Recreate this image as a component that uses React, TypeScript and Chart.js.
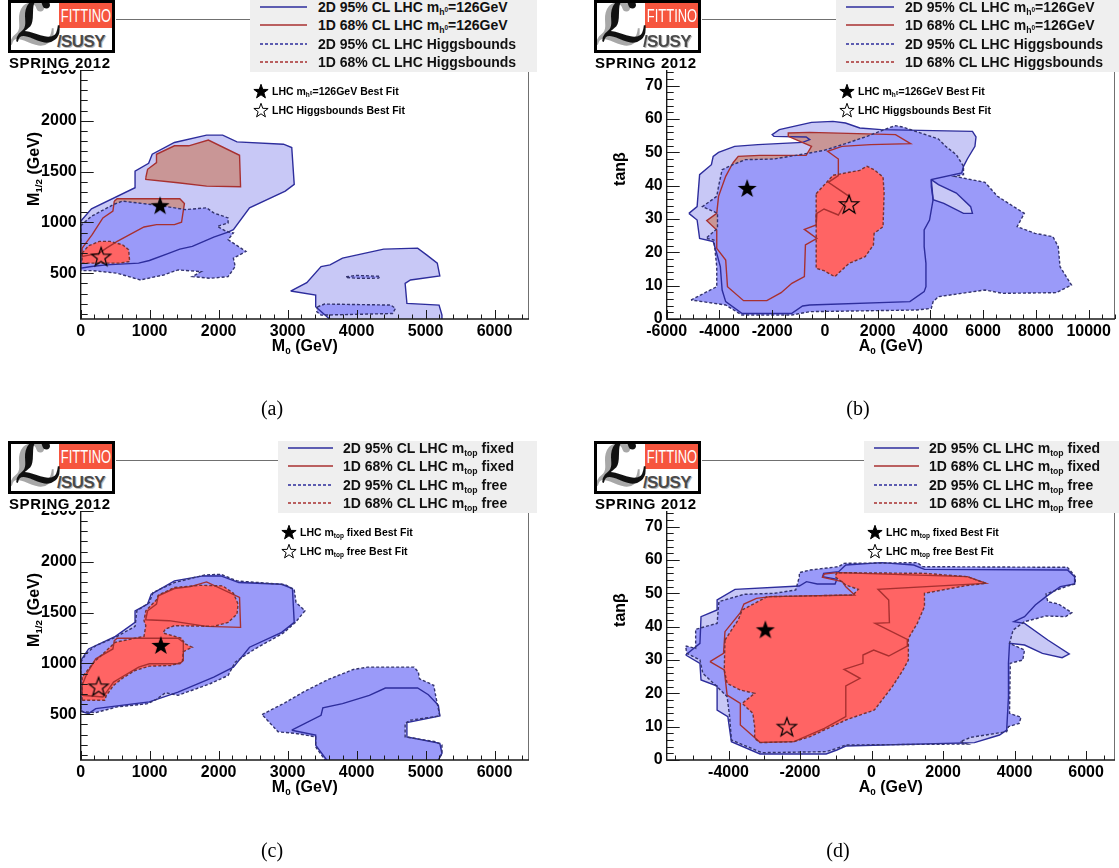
import React, { useEffect, useRef } from "react";
import { Chart, registerables } from "chart.js";

Chart.register(...registerables);

type Pt = [number, number];

// ---------- tick labels ----------
const M0_TICKS = [0, 1000, 2000, 3000, 4000, 5000, 6000];
const M12_TICKS = [500, 1000, 1500, 2000, 2500, 3000];
const A0_TICKS_B = [-6000, -4000, -2000, 0, 2000, 4000, 6000, 8000, 10000];
const A0_TICKS_D = [-4000, -2000, 0, 2000, 4000, 6000];
const TANB_TICKS = [0, 10, 20, 30, 40, 50, 60, 70, 80, 90];

// ---------- panel (a): M0 vs M1/2, mh=126 vs Higgsbounds ----------
const A_MH2D_1: Pt[] = [[0,1011],[156,1133],[788,1341],[788,1505],[985,1581],[1037,1670],[1359,1786],[1825,1858],[2059,1858],[2266,1792],[2940,1769],[3060,1736],[3096,1374],[2966,1308],[2448,1143],[2214,928],[2137,905],[1929,856],[1618,764],[1437,737],[1255,691],[996,625],[840,599],[373,582],[156,566],[0,549]];
const A_MH2D_2: Pt[] = [[3044,325],[3278,408],[3485,566],[3615,582],[3796,648],[4392,737],[4885,747],[5015,681],[5170,599],[5207,473],[4781,434],[4704,401],[4730,203],[5196,187],[5238,88],[5238,30],[3641,30],[3407,170],[3407,286]];
const A_MH1D_1: Pt[] = [[944,1440],[970,1522],[1099,1588],[1099,1670],[1359,1753],[1566,1753],[1851,1809],[2303,1660],[2318,1350],[1825,1357],[1411,1390],[944,1423]];
const A_MH1D_2: Pt[] = [[487,1209],[529,1232],[1437,1232],[1504,1186],[1462,1001],[1359,978],[1099,978],[918,955],[529,813],[373,747],[270,698],[21,665],[21,747],[166,879],[322,1044],[467,1110]];
const A_HB2D_1: Pt[] = [[0,968],[156,1060],[477,1176],[607,1209],[892,1186],[1151,1166],[1514,1126],[1825,1143],[1929,1093],[2137,1044],[2137,994],[1981,961],[2111,912],[2214,896],[2137,830],[2396,714],[2214,648],[2240,566],[2137,467],[1877,450],[1618,467],[1748,516],[1411,533],[1203,483],[866,434],[529,500],[166,526],[0,526]];
const A_HB2D_2: Pt[] = [[3848,466],[4004,478],[4340,470],[4320,452],[4004,450],[3860,458]];
const A_HB2D_3: Pt[] = [[3433,170],[3537,197],[4496,187],[4564,154],[4522,104],[3485,88],[3423,121]];
const A_HB1D_1: Pt[] = [[21,698],[114,770],[270,813],[425,813],[607,780],[695,731],[710,615],[555,599],[322,599],[21,599]];
const A_BEST: Pt[] = [[1151,1169],[296,665]];

// ---------- panel (b): A0 vs tanb, mh=126 vs Higgsbounds ----------
const B_MH2D_1: Pt[] = [[-5159,31.7],[-4847,33.7],[-4752,43.3],[-4305,46.3],[-4237,48.8],[-4034,50.0],[-3424,51.8],[-2542,52.3],[-847,53.0],[-576,53.8],[-712,54.6],[-1932,54.8],[-2000,55.3],[-1729,56.8],[-508,59.0],[305,59.3],[780,58.8],[1322,57.3],[2136,56.8],[5594,56.3],[5729,54.6],[5689,51.8],[5400,48.0],[5255,45.8],[5187,43.8],[4034,41.8],[4102,35.8],[3967,29.7],[3763,26.7],[3763,21.7],[3831,16.7],[3831,9.7],[3763,8.2],[3221,5.2],[-576,4.2],[-847,3.9],[-1254,1.7],[-3152,1.7],[-3763,5.2],[-3898,8.7],[-3966,15.7],[-4102,19.7],[-4237,23.2],[-4752,24.2],[-4847,29.7]];
const B_MH2D_WEDGE: Pt[] = [[4034,41.8],[4306,40.3],[4984,37.8],[5526,33.7],[5594,31.7],[5255,31.7],[4509,34.7],[4102,35.8],[4034,39.8]];
const B_HB2D_1: Pt[] = [[-5078,5.7],[-4102,9.7],[-4102,15.7],[-4210,23.7],[-4508,24.2],[-4074,27.2],[-4074,31.7],[-4644,33.7],[-4102,36.8],[-4034,39.8],[-3898,44.8],[-3491,46.3],[-3017,47.8],[-1932,48.0],[-576,49.8],[-34,50.6],[780,52.6],[1594,54.8],[2407,57.3],[2678,58.0],[2950,57.6],[4306,54.0],[4577,51.8],[4984,49.3],[5255,45.8],[5255,43.3],[4916,42.8],[6068,41.0],[6543,36.8],[7560,31.7],[7289,27.7],[7967,25.7],[8645,24.7],[8848,21.7],[8916,15.7],[9350,10.2],[8780,7.9],[6746,7.7],[6068,8.7],[4306,6.7],[4102,5.2],[4034,3.2],[3492,2.7],[-576,2.2],[-1254,1.2],[-3152,1.2],[-3763,4.2]];
const B_MH1D_1: Pt[] = [[-3491,46.8],[-3288,48.8],[-2474,49.1],[-712,49.1],[-508,51.8],[-1390,54.8],[-1390,55.8],[-576,56.0],[2678,55.3],[3248,52.6],[1729,52.3],[644,51.8],[102,50.3],[509,48.0],[509,43.0],[129,41.0],[916,36.8],[509,31.2],[-34,33.0],[-305,31.7],[-332,28.2],[-779,26.9],[-305,24.2],[-739,22.2],[-779,12.7],[-1254,10.7],[-1661,7.9],[-2203,5.5],[-3085,5.5],[-3695,9.7],[-3763,17.7],[-4102,21.2],[-4102,26.7],[-4481,29.5],[-4102,31.7],[-4034,36.8],[-3763,42.8]];
const B_HB1D_1: Pt[] = [[-332,37.6],[102,41.3],[305,43.1],[1322,44.6],[1594,45.8],[1865,44.8],[2204,42.6],[2244,37.8],[2204,27.7],[1865,25.7],[1838,22.2],[1526,18.7],[916,16.7],[373,12.7],[-34,14.5],[-332,15.2],[-332,25.7]];
const B_BEST: Pt[] = [[-2949,39.3],[916,34.5]];

// ---------- panel (c): M0 vs M1/2, mtop fixed vs free ----------
const C_MH2D_1: Pt[] = [[0,1028],[114,1142],[503,1266],[788,1403],[788,1517],[970,1583],[1022,1680],[1359,1811],[1774,1860],[2033,1860],[2292,1795],[2914,1778],[3070,1736],[3096,1403],[2914,1305],[2448,1159],[2214,963],[1929,865],[1411,718],[996,621],[788,604],[218,555],[114,506],[0,529]];
const C_MH2D_2: Pt[] = [[3060,343],[3485,490],[3511,562],[3796,604],[4185,686],[4418,758],[4885,758],[5041,692],[5186,588],[5207,484],[4730,418],[4730,278],[5207,213],[5238,115],[5170,30],[3589,30],[3407,197],[3407,295]];
const C_HB2D_1: Pt[] = [[0,1012],[88,1103],[218,1175],[503,1256],[788,1364],[814,1517],[996,1599],[1048,1697],[1359,1795],[1800,1870],[2033,1876],[2266,1811],[2966,1775],[3096,1723],[3122,1599],[3252,1517],[3112,1403],[2940,1299],[2526,1142],[2344,1061],[2240,1012],[2137,881],[1877,800],[1411,686],[1229,712],[1099,647],[970,604],[529,572],[218,516],[36,523],[0,539]];
const C_HB2D_2: Pt[] = [[2629,497],[2966,614],[3226,718],[3589,842],[3952,940],[4159,963],[4833,963],[4896,914],[4911,849],[5119,784],[5155,653],[5207,484],[4781,441],[4704,409],[4704,278],[5145,229],[5238,197],[5238,115],[5170,30],[3563,30],[3407,180],[3407,278],[3122,311],[2863,327]];
const C_MH1D_1: Pt[] = [[944,1436],[970,1517],[1099,1583],[1125,1664],[1359,1736],[1592,1755],[1825,1801],[2303,1648],[2318,1354],[1825,1364],[1281,1420],[944,1429]];
const C_MH1D_2: Pt[] = [[21,784],[88,898],[218,1045],[467,1142],[487,1224],[529,1247],[1411,1247],[1488,1208],[1488,1028],[1437,996],[996,996],[840,963],[633,881],[477,816],[373,718],[322,670],[21,686]];
const C_HB1D_1: Pt[] = [[21,637],[21,865],[192,1012],[373,1126],[503,1208],[736,1240],[918,1266],[944,1371],[918,1420],[944,1517],[1099,1625],[1125,1671],[1359,1746],[1722,1768],[2059,1762],[2214,1690],[2282,1583],[2266,1485],[2137,1403],[1929,1364],[1359,1371],[1229,1338],[1193,1299],[1462,1247],[1514,1191],[1618,1159],[1488,1116],[1473,1012],[1307,979],[996,973],[788,930],[607,855],[477,784],[373,686],[347,637]];
const C_BEST: Pt[] = [[1162,1181],[259,774]];

// ---------- panel (d): A0 vs tanb, mtop fixed vs free ----------
const D_MH2D_1: Pt[] = [[-5200,31.5],[-4800,35.0],[-4770,43.0],[-4320,45.0],[-4320,48.0],[-3820,51.2],[-2020,52.2],[-1820,53.5],[-1520,52.8],[-1020,52.8],[-970,54.2],[-1370,55.0],[-1340,56.0],[-920,56.5],[-720,58.5],[280,59.2],[1180,58.5],[1480,57.2],[5480,57.0],[5680,55.0],[5680,52.8],[5280,52.0],[4880,49.0],[4580,46.5],[4280,43.0],[3980,41.5],[4280,41.0],[4930,36.0],[5530,31.8],[5330,30.7],[4780,32.0],[4280,34.5],[3860,35.0],[3830,29.0],[3830,19.0],[3780,9.0],[3580,7.5],[2880,5.2],[-720,4.2],[-970,3.0],[-1270,1.8],[-3120,1.8],[-3920,5.5],[-4020,13.0],[-4320,15.0],[-4320,22.2],[-4770,24.0],[-4800,29.0]];
const D_HB2D_1: Pt[] = [[-5200,34.2],[-4920,33.5],[-4920,39.2],[-4320,41.0],[-4270,47.5],[-3570,49.7],[-2720,50.0],[-2120,51.0],[-2020,55.0],[-2020,56.2],[-1720,57.0],[-920,58.0],[-770,59.0],[1280,59.2],[1430,58.0],[5480,57.8],[5700,55.0],[5700,52.8],[5480,52.2],[4880,49.8],[4930,47.5],[5230,46.8],[5600,44.2],[5430,43.0],[4880,43.2],[4280,41.5],[3960,39.0],[3860,35.0],[4280,33.0],[4230,30.0],[3880,29.0],[3860,14.0],[4180,12.8],[4130,11.0],[3830,10.0],[3780,8.5],[2780,6.8],[2480,5.5],[2680,4.8],[-720,4.5],[-970,3.5],[-1270,2.5],[-3070,2.2],[-3920,6.0],[-3970,13.0],[-4040,19.0],[-4320,22.0],[-4720,26.0],[-4800,30.0],[-5170,32.0]];
const D_MH1D_1: Pt[] = [[-4520,29.5],[-4140,32.0],[-4100,38.5],[-3670,44.2],[-3570,46.8],[-3220,48.5],[-2820,49.0],[-470,49.5],[-720,52.0],[-820,53.5],[-1370,54.8],[-1320,55.8],[-970,56.2],[2680,55.0],[3200,53.0],[2680,52.7],[180,51.2],[480,48.0],[500,41.2],[100,41.0],[1000,36.2],[1000,34.2],[480,31.2],[60,33.0],[-240,31.5],[-240,29.0],[-770,27.2],[-320,24.5],[-720,22.2],[-720,13.0],[-1320,9.5],[-2170,5.5],[-3120,5.3],[-3320,7.2],[-3670,10.5],[-3670,17.0],[-4040,19.5],[-4120,27.0]];
const D_HB1D_1: Pt[] = [[-4100,36.0],[-3720,42.2],[-3620,45.0],[-3270,47.0],[-2920,49.0],[-520,49.5],[-370,51.2],[-720,52.5],[-1020,55.0],[-970,56.2],[1480,56.0],[2680,55.0],[3200,53.0],[2630,52.3],[1480,50.0],[1480,46.0],[1280,41.0],[1030,36.5],[1030,30.0],[880,27.0],[580,22.0],[80,15.0],[-720,12.0],[-1720,7.0],[-2170,5.5],[-3120,5.2],[-3270,6.5],[-3270,10.0],[-3320,14.0],[-3620,17.0],[-3270,20.0],[-3670,21.0],[-4040,23.0],[-4120,27.0]];
const D_BEST: Pt[] = [[-2970,39.2],[-2370,10.0]];

// ---------- styles ----------
type Kind = "mh2d" | "mh1d" | "hb2d" | "hb1d";
const STYLE: Record<Kind, { bg: string; border: string; dash: number[] }> = {
  mh2d: { bg: "#c8c8f6", border: "#2d2d9c", dash: [] },
  mh1d: { bg: "#c99696", border: "#a83030", dash: [] },
  hb2d: { bg: "#9a9af9", border: "#34346e", dash: [3, 2] },
  hb1d: { bg: "#ff6464", border: "#763232", dash: [3, 2] },
};
const FONT = '"Liberation Sans", Arial, Helvetica, sans-serif';

const SUB: React.CSSProperties = { fontSize: "0.62em", position: "relative", top: "0.35em" };
const SUP: React.CSSProperties = { fontSize: "0.75em", position: "relative", top: "-0.45em" };
const Sub = ({ children }: { children: React.ReactNode }) => <span style={SUB}>{children}</span>;
const Sup = ({ children }: { children: React.ReactNode }) => <span style={SUP}>{children}</span>;
const MH0 = () => (<>m<Sub>h<Sup>0</Sup></Sub></>);
const MTOP = () => (<>m<Sub>top</Sub></>);

function makeStar(filled: boolean, R: number): HTMLCanvasElement {
  const size = Math.ceil(R * 2 + 4);
  const c = document.createElement("canvas");
  c.width = size;
  c.height = size;
  const g = c.getContext("2d")!;
  g.translate(size / 2, size / 2 + R * 0.1);
  g.beginPath();
  for (let i = 0; i < 10; i++) {
    const a = -Math.PI / 2 + (i * Math.PI) / 5;
    const r = i % 2 === 0 ? R : R * 0.4;
    g.lineTo(Math.cos(a) * r, Math.sin(a) * r);
  }
  g.closePath();
  if (filled) {
    g.fillStyle = "#000";
    g.fill();
  } else {
    g.strokeStyle = "#000";
    g.lineWidth = 1.2;
    g.stroke();
  }
  return c;
}

const rootAxes = {
  id: "rootAxes",
  afterDatasetsDraw(chart: any, _a: any, opts: any) {
    const { ctx, chartArea: a } = chart;
    const xs = chart.scales.x;
    const ys = chart.scales.y;
    ctx.save();
    ctx.strokeStyle = "#707070";
    ctx.lineWidth = 1;
    ctx.beginPath();
    ctx.moveTo(a.left, Math.round(a.top) + 0.5);
    ctx.lineTo(a.right, Math.round(a.top) + 0.5);
    ctx.moveTo(Math.round(a.right) - 0.5, a.top);
    ctx.lineTo(Math.round(a.right) - 0.5, a.bottom);
    ctx.stroke();
    ctx.strokeStyle = "#1a1a1a";
    ctx.lineWidth = 1.4;
    ctx.beginPath();
    ctx.moveTo(a.left, a.top);
    ctx.lineTo(a.left, a.bottom);
    ctx.lineTo(a.right, a.bottom);
    ctx.stroke();
    ctx.lineWidth = 1;
    ctx.beginPath();
    const isMajor = (arr: number[], v: number) => arr.some((m) => Math.abs(m - v) < 1e-6);
    for (let v = Math.ceil(xs.min / opts.xMinor) * opts.xMinor; v <= xs.max; v += opts.xMinor) {
      const p = Math.round(xs.getPixelForValue(v)) + 0.5;
      const len = isMajor(opts.xMajor, v) ? 9 : 4.5;
      ctx.moveTo(p, a.bottom);
      ctx.lineTo(p, a.bottom - len);
    }
    for (let v = Math.ceil(ys.min / opts.yMinor) * opts.yMinor; v <= ys.max + 1e-9; v += opts.yMinor) {
      const p = Math.round(ys.getPixelForValue(v)) + 0.5;
      const len = isMajor(opts.yMajor, v) ? 13 : 7;
      ctx.moveTo(a.left, p);
      ctx.lineTo(a.left + len, p);
    }
    ctx.stroke();
    ctx.restore();
  },
};

type PolyDef = { pts: Pt[]; kind: Kind };
type PanelDef = {
  dx: number; dy: number;
  xMin: number; xMax: number; yMin: number; yMax: number;
  xTicks: number[]; yTicks: number[]; xMinor: number; yMinor: number;
  polys: PolyDef[]; best: Pt[];
  xTitle: React.ReactNode; yTitle: React.ReactNode;
  legend: { x: number; w: number; lx0: number; lx1: number; tx: number; labels: React.ReactNode[] };
  bestFit: { sx: number; tx: number; labels: React.ReactNode[] };
  caption: string; capX: number; capY: number;
};

const CW = 545;
const CH = 400;
const AREA_L = 80.7;
const AREA_R = 529;
const AREA_T = 19;
const AREA_B = 319;

function PanelChart({ p }: { p: PanelDef }) {
  const ref = useRef<HTMLCanvasElement>(null);
  useEffect(() => {
    const starFilled = makeStar(true, 10);
    const starOpen = makeStar(false, 10);
    const datasets: any[] = [
      {
        data: p.best.map(([x, y]) => ({ x, y })),
        showLine: false,
        fill: false,
        pointStyle: [starFilled, starOpen],
        pointRadius: 10,
        borderWidth: 0,
      },
      ...p.polys.map((poly) => {
        const st = STYLE[poly.kind];
        const pts = poly.pts.concat([poly.pts[0]]);
        return {
          data: pts.map(([x, y]) => ({ x, y })),
          fill: "shape",
          backgroundColor: st.bg,
          borderColor: st.border,
          borderWidth: 1.4,
          borderDash: st.dash,
          pointRadius: 0,
          tension: 0,
          borderJoinStyle: "miter",
        };
      }),
    ];
    const tickFont = { family: "Liberation Sans", weight: "bold" as const, size: 16 };
    const chart = new Chart(ref.current!, {
      type: "line",
      data: { datasets },
      plugins: [rootAxes as any],
      options: {
        animation: false,
        responsive: false,
        maintainAspectRatio: false,
        events: [],
        layout: {
          autoPadding: false,
          padding: { left: 0, top: AREA_T, right: CW - AREA_R, bottom: CH - AREA_B - 40 },
        },
        plugins: {
          legend: { display: false },
          tooltip: { enabled: false },
          filler: { drawTime: "beforeDatasetsDraw", propagate: false },
          rootAxes: { xMajor: p.xTicks, yMajor: p.yTicks, xMinor: p.xMinor, yMinor: p.yMinor },
        } as any,
        scales: {
          x: {
            type: "linear",
            min: p.xMin,
            max: p.xMax,
            grid: { display: false, drawTicks: false },
            border: { display: false },
            afterBuildTicks: (s: any) => { s.ticks = p.xTicks.map((v) => ({ value: v })); },
            afterFit: (s: any) => { s.height = 40; },
            ticks: { color: "#000", font: tickFont, padding: 3, maxRotation: 0, autoSkip: false, callback: (v: any) => String(v) },
          },
          y: {
            type: "linear",
            min: p.yMin,
            max: p.yMax,
            grid: { display: false, drawTicks: false },
            border: { display: false },
            afterBuildTicks: (s: any) => { s.ticks = p.yTicks.map((v) => ({ value: v })); },
            afterFit: (s: any) => { s.width = AREA_L; },
            ticks: { color: "#000", font: tickFont, padding: 4, autoSkip: false, callback: (v: any) => String(v) },
          },
        },
      } as any,
    });
    return () => chart.destroy();
  }, [p]);

  const top = p.dy + AREA_T;
  const base = [11.5, 30, 48.5, 67];
  const lg = p.legend;
  return (
    <>
      <canvas ref={ref} width={CW} height={CH} style={{ position: "absolute", left: p.dx, top: p.dy, width: CW, height: CH, zIndex: 1 }} />
      {/* axis titles */}
      <div style={{ position: "absolute", left: p.dx + (AREA_L + AREA_R) / 2, top: p.dy + 346, transform: "translate(-50%,-50%)", font: `bold 16px ${FONT}`, whiteSpace: "nowrap", zIndex: 2 }}>{p.xTitle}</div>
      <div style={{ position: "absolute", left: p.dx + 34, top: p.dy + 169, transform: "translate(-50%,-50%) rotate(-90deg)", font: `bold 16px ${FONT}`, whiteSpace: "nowrap", zIndex: 2 }}>{p.yTitle}</div>
      {/* logo */}
      <div style={{ position: "absolute", left: p.dx + 8, top: top - 19, width: 108, height: 70, background: "#fff", zIndex: 3 }}>
        <div style={{ position: "absolute", left: 0, top: 0, width: 107, height: 53, border: "3px solid #000", boxSizing: "border-box", background: "#fff", overflow: "hidden" }}>
          <div style={{ position: "absolute", right: 0, top: 0, width: 53, height: 25, background: "#f6553e", overflow: "hidden", textAlign: "center" }}>
            <span style={{ display: "inline-block", color: "#fff", font: `18px ${FONT}`, lineHeight: "27px", transform: "scaleX(0.72)", transformOrigin: "center", whiteSpace: "nowrap", marginLeft: -20, marginRight: -20 }}>FITTINO</span>
          </div>
          <div style={{ position: "absolute", left: 3, top: -11, font: 'bold 58px "DejaVu Serif", "DejaVu Sans", serif', lineHeight: "60px", color: "#111", textShadow: "-6px 3px 0 #a8a8a8" }}>ℒ</div>
          <div style={{ position: "absolute", left: 46, top: 29, font: `bold 17px ${FONT}`, color: "#4a4a4a", textShadow: "1px 1px 0 #bbb", letterSpacing: "-0.6px" }}>/SUSY</div>
        </div>
        <div style={{ position: "absolute", left: 1, top: 56, font: `bold 15px ${FONT}`, letterSpacing: "0.6px", lineHeight: "13px", whiteSpace: "nowrap" }}>SPRING 2012</div>
      </div>
      {/* legend */}
      <div style={{ position: "absolute", left: lg.x, top: top - 19, width: lg.w, height: 72, background: "#efefef", zIndex: 3 }}>
        {lg.labels.map((lab, i) => (
          <React.Fragment key={i}>
            <svg style={{ position: "absolute", left: lg.lx0 - lg.x, top: base[i] - 7 }} width={lg.lx1 - lg.lx0} height={4}>
              <line x1={0} y1={2} x2={lg.lx1 - lg.lx0} y2={2} stroke={i % 2 === 0 ? "#2d2d9c" : "#a83030"} strokeWidth={1.5} strokeDasharray={i >= 2 ? "3 2" : undefined} />
            </svg>
            <div style={{ position: "absolute", left: lg.tx - lg.x, top: base[i] - 11.85, font: `bold 14px ${FONT}`, lineHeight: "14px", whiteSpace: "nowrap", color: "#111" }}>{lab}</div>
          </React.Fragment>
        ))}
      </div>
      {/* best fit notes */}
      {p.bestFit.labels.map((lab, i) => {
        const cy = top + 72 + i * 19;
        const R = 7.5;
        const pts: string[] = [];
        for (let k = 0; k < 10; k++) {
          const a = -Math.PI / 2 + (k * Math.PI) / 5;
          const r = k % 2 === 0 ? R : R * 0.4;
          pts.push(`${(9 + Math.cos(a) * r).toFixed(2)},${(9.8 + Math.sin(a) * r).toFixed(2)}`);
        }
        return (
          <React.Fragment key={i}>
            <svg style={{ position: "absolute", left: p.bestFit.sx - 9, top: cy - 9, zIndex: 2 }} width={18} height={18}>
              <polygon points={pts.join(" ")} fill={i === 0 ? "#000" : "none"} stroke="#000" strokeWidth={1} />
            </svg>
            <div style={{ position: "absolute", left: p.bestFit.tx, top: cy - 7, font: `bold 10.5px ${FONT}`, lineHeight: "14px", whiteSpace: "nowrap", zIndex: 2 }}>{lab}</div>
          </React.Fragment>
        );
      })}
      {/* caption */}
      <div style={{ position: "absolute", left: p.capX, top: p.capY, transform: "translate(-50%,-50%)", font: '20px "Liberation Serif", serif', zIndex: 2 }}>{p.caption}</div>
    </>
  );
}

const M_TITLES = { x: <>M<Sub>0</Sub> (GeV)</>, y: <>M<Sub>1/2</Sub> (GeV)</> };
const A_TITLES = { x: <>A<Sub>0</Sub> (GeV)</>, y: <>tanβ</> };

const PANELS: PanelDef[] = [
  {
    dx: 0, dy: 0, xMin: 0, xMax: 6500, yMin: 50, yMax: 3000,
    xTicks: M0_TICKS, yTicks: M12_TICKS, xMinor: 200, yMinor: 100,
    polys: [
      { pts: A_HB1D_1, kind: "hb1d" },
      { pts: A_HB2D_1, kind: "hb2d" }, { pts: A_HB2D_2, kind: "hb2d" }, { pts: A_HB2D_3, kind: "hb2d" },
      { pts: A_MH1D_1, kind: "mh1d" }, { pts: A_MH1D_2, kind: "mh1d" },
      { pts: A_MH2D_1, kind: "mh2d" }, { pts: A_MH2D_2, kind: "mh2d" },
    ],
    best: A_BEST, xTitle: M_TITLES.x, yTitle: M_TITLES.y,
    legend: { x: 250, w: 287, lx0: 260, lx1: 307, tx: 318, labels: [
      <>2D 95% CL LHC <MH0 />=126GeV</>, <>1D 68% CL LHC <MH0 />=126GeV</>,
      <>2D 95% CL LHC Higgsbounds</>, <>1D 68% CL LHC Higgsbounds</>] },
    bestFit: { sx: 261, tx: 272, labels: [<>LHC <MH0 />=126GeV Best Fit</>, <>LHC Higgsbounds Best Fit</>] },
    caption: "(a)", capX: 272, capY: 408,
  },
  {
    dx: 586, dy: 0, xMin: -6000, xMax: 11000, yMin: 0, yMax: 90,
    xTicks: A0_TICKS_B, yTicks: TANB_TICKS, xMinor: 500, yMinor: 2,
    polys: [
      { pts: B_MH2D_WEDGE, kind: "mh2d" },
      { pts: B_HB1D_1, kind: "hb1d" },
      { pts: B_HB2D_1, kind: "hb2d" },
      { pts: B_MH1D_1, kind: "mh1d" },
      { pts: B_MH2D_1, kind: "mh2d" },
    ],
    best: B_BEST, xTitle: A_TITLES.x, yTitle: A_TITLES.y,
    legend: { x: 836, w: 290, lx0: 846, lx1: 894, tx: 905, labels: [
      <>2D 95% CL LHC <MH0 />=126GeV</>, <>1D 68% CL LHC <MH0 />=126GeV</>,
      <>2D 95% CL LHC Higgsbounds</>, <>1D 68% CL LHC Higgsbounds</>] },
    bestFit: { sx: 847, tx: 858, labels: [<>LHC <MH0 />=126GeV Best Fit</>, <>LHC Higgsbounds Best Fit</>] },
    caption: "(b)", capX: 858, capY: 408,
  },
  {
    dx: 0, dy: 441, xMin: 0, xMax: 6500, yMin: 50, yMax: 3000,
    xTicks: M0_TICKS, yTicks: M12_TICKS, xMinor: 200, yMinor: 100,
    polys: [
      { pts: C_HB1D_1, kind: "hb1d" },
      { pts: C_HB2D_1, kind: "hb2d" }, { pts: C_HB2D_2, kind: "hb2d" },
      { pts: C_MH1D_1, kind: "mh1d" }, { pts: C_MH1D_2, kind: "mh1d" },
      { pts: C_MH2D_1, kind: "mh2d" }, { pts: C_MH2D_2, kind: "mh2d" },
    ],
    best: C_BEST, xTitle: M_TITLES.x, yTitle: M_TITLES.y,
    legend: { x: 278, w: 259, lx0: 288, lx1: 333, tx: 343, labels: [
      <>2D 95% CL LHC <MTOP /> fixed</>, <>1D 68% CL LHC <MTOP /> fixed</>,
      <>2D 95% CL LHC <MTOP /> free</>, <>1D 68% CL LHC <MTOP /> free</>] },
    bestFit: { sx: 288.5, tx: 300, labels: [<>LHC <MTOP /> fixed Best Fit</>, <>LHC <MTOP /> free Best Fit</>] },
    caption: "(c)", capX: 272, capY: 850,
  },
  {
    dx: 586, dy: 441, xMin: -5730, xMax: 6810, yMin: 0, yMax: 90,
    xTicks: A0_TICKS_D, yTicks: TANB_TICKS, xMinor: 500, yMinor: 2,
    polys: [
      { pts: D_HB1D_1, kind: "hb1d" },
      { pts: D_HB2D_1, kind: "hb2d" },
      { pts: D_MH1D_1, kind: "mh1d" },
      { pts: D_MH2D_1, kind: "mh2d" },
    ],
    best: D_BEST, xTitle: A_TITLES.x, yTitle: A_TITLES.y,
    legend: { x: 864, w: 260, lx0: 874, lx1: 919, tx: 929, labels: [
      <>2D 95% CL LHC <MTOP /> fixed</>, <>1D 68% CL LHC <MTOP /> fixed</>,
      <>2D 95% CL LHC <MTOP /> free</>, <>1D 68% CL LHC <MTOP /> free</>] },
    bestFit: { sx: 874.5, tx: 886, labels: [<>LHC <MTOP /> fixed Best Fit</>, <>LHC <MTOP /> free Best Fit</>] },
    caption: "(d)", capX: 838, capY: 850,
  },
];

export default function App() {
  return (
    <div style={{ position: "absolute", left: 0, top: 0, width: 1119, height: 868, overflow: "hidden", background: "#fff", fontFamily: FONT }}>
      {PANELS.map((p, i) => (
        <PanelChart key={i} p={p} />
      ))}
    </div>
  );
}
